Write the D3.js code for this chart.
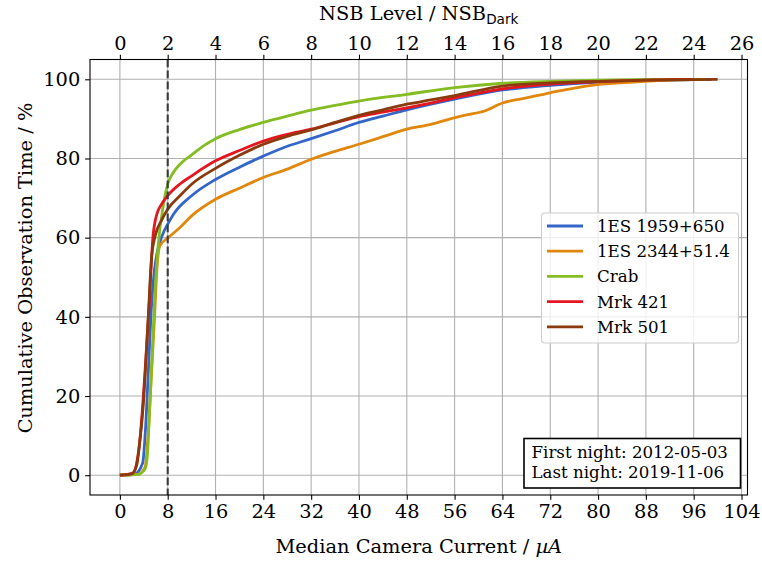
<!DOCTYPE html>
<html>
<head>
<meta charset="utf-8">
<script src="https://cdn.jsdelivr.net/npm/d3@7"></script>
<style>
  html, body { margin: 0; padding: 0; background: #fff; }
  svg text { font-family: "DejaVu Serif", serif; fill: #000; }
</style>
</head>
<body>
<svg id="chart" width="762" height="561"></svg>
<script>
// Cumulative distributions of median camera current per source: [current (µA), cumulative time (%)]
const names = ["1ES 1959+650", "1ES 2344+51.4", "Crab", "Mrk 421", "Mrk 501"];
const colors = ["#3465c8", "#e0870c", "#84bc22", "#e41620", "#8a3a0c"];

const es1959 = [[0,0],[2.5,0.3],[3.8,3],[4.3,12],[4.75,26],[5.3,43],[5.8,52],[6.2,56],[7.2,61],[8,63.4],[9,66],[12,70.6],[16,74.7],[20,77.8],[24,80.6],[28,83.1],[32,85],[36,87],[40,89.1],[44,90.7],[48,92.3],[56,95],[64,97.3],[72,98.5],[80,99.3],[88,99.7],[96,99.95],[99,100]];
const es2344 = [[0,0],[3,0.2],[4.2,2],[4.8,12],[5.3,26],[5.8,40],[6.15,51],[6.7,58],[8.1,60],[10,62.5],[12,65.5],[16,69.7],[20,72.5],[24,75.2],[28,77.3],[32,79.8],[36,81.8],[40,83.6],[44,85.5],[48,87.4],[52,88.6],[55,89.9],[58,91],[61,92],[64,94],[68,95.3],[72,96.6],[78,98.3],[86,99.3],[92,99.8],[98,100]];
const crab = [[0,0],[3,0.2],[4.2,1.5],[4.6,5],[5,17.5],[5.5,34],[5.9,47],[6.4,58],[7.25,68],[8,73.5],[9,76.6],[10,78.5],[11,79.8],[12,80.9],[14,83.2],[16,85],[20,87.3],[24,89.1],[28,90.7],[32,92.2],[36,93.4],[40,94.5],[48,96.2],[56,97.9],[64,99],[72,99.5],[80,99.8],[90,100],[98,100]];
const mrk421 = [[0,0],[2.2,0.5],[2.8,3],[3.35,9],[4.2,26],[4.9,43],[5.5,59.6],[6.1,65.5],[7,68.5],[8,70.6],[10,73.5],[12,75.6],[16,79.4],[20,82],[24,84.4],[28,86.1],[32,87.4],[36,89],[40,90.6],[44,91.7],[48,92.8],[52,94],[56,95.3],[64,97.6],[72,98.8],[80,99.4],[88,99.8],[96,100]];
const mrk501 = [[0,0],[2,0.4],[2.8,2.4],[3.3,8],[3.9,17.5],[4.7,38.6],[5.3,55],[5.9,60.4],[7,64.5],[8,67.2],[10,70.5],[12,73.5],[16,77.5],[20,80.8],[24,83.6],[28,85.6],[32,87.2],[36,89.1],[40,90.9],[44,92.3],[48,93.7],[52,94.8],[56,95.9],[64,98.3],[72,99.1],[80,99.5],[88,99.8],[100,100]];
const seriesData = [es1959, es2344, crab, mrk421, mrk501];

const currentTicks = [0, 8, 16, 24, 32, 40, 48, 56, 64, 72, 80, 88, 96, 104];
const nsbTicks = [0, 2, 4, 6, 8, 10, 12, 14, 16, 18, 20, 22, 24, 26];
const percentTicks = [0, 20, 40, 60, 80, 100];
const darkCurrent = 8; // NSB_Dark reference current (µA)
const infoLines = ["First night: 2012-05-03", "Last night: 2019-11-06"];

const svg = d3.select("#chart");
const L = 90, R = 747.5, T = 59.5, B = 495;
const tickFont = 19.4, labelFont = 19.4, smallFont = 16.67;

const x = d3.scaleLinear().domain([-5, 105]).range([L, R]);
const xTop = d3.scaleLinear().domain([-5 / 4, 105 / 4]).range([L, R]);
const y = d3.scaleLinear().domain([-5, 105]).range([B, T]);

// grid
const grid = svg.append("g").attr("stroke", "#b0b0b0").attr("stroke-width", 1.1);
currentTicks.forEach(t => grid.append("line")
  .attr("x1", x(t)).attr("x2", x(t)).attr("y1", T).attr("y2", B));
percentTicks.forEach(t => grid.append("line")
  .attr("x1", L).attr("x2", R).attr("y1", y(t)).attr("y2", y(t)));

// curves
const line = d3.line().x(d => x(d[0])).y(d => y(d[1])).curve(d3.curveMonotoneX);
const plot = svg.append("g");
seriesData.forEach((s, i) => plot.append("path")
  .attr("d", line(s)).attr("fill", "none")
  .attr("stroke", colors[i]).attr("stroke-width", 2.8)
  .attr("stroke-linejoin", "round").attr("stroke-linecap", "butt"));

// NSB_Dark reference line
svg.append("line")
  .attr("x1", x(darkCurrent)).attr("x2", x(darkCurrent))
  .attr("y1", T).attr("y2", B)
  .attr("stroke", "#3a3a3a").attr("stroke-width", 2.1)
  .attr("stroke-dasharray", "7.7,3.3");

// axes
const tickSize = 4.86, pad = 4.86;
const fmtAxis = g => {
  g.select(".domain").remove();
  g.selectAll(".tick line").attr("stroke", "#000").attr("stroke-width", 1.1);
  g.selectAll(".tick text").style("font-size", tickFont + "px")
    .style("font-family", "'DejaVu Serif', serif").attr("fill", "#000");
};
svg.append("g").attr("transform", `translate(0,${B})`)
  .call(d3.axisBottom(x).tickValues(currentTicks).tickSize(tickSize).tickPadding(pad))
  .call(fmtAxis);
svg.append("g").attr("transform", `translate(0,${T})`)
  .call(d3.axisTop(xTop).tickValues(nsbTicks).tickSize(tickSize).tickPadding(pad))
  .call(fmtAxis);
svg.append("g").attr("transform", `translate(${L},0)`)
  .call(d3.axisLeft(y).tickValues(percentTicks).tickSize(tickSize).tickPadding(pad))
  .call(fmtAxis);

// frame
svg.append("rect").attr("x", L).attr("y", T).attr("width", R - L).attr("height", B - T)
  .attr("fill", "none").attr("stroke", "#000").attr("stroke-width", 1.1);

// axis titles
const xl = svg.append("text").attr("x", (L + R) / 2).attr("y", 553)
  .attr("text-anchor", "middle").style("font-size", labelFont + "px");
xl.append("tspan").text("Median Camera Current / ");
xl.append("tspan").attr("font-style", "italic").text("µA");

const tl = svg.append("text").attr("x", (L + R) / 2).attr("y", 20)
  .attr("text-anchor", "middle").style("font-size", labelFont + "px");
tl.append("tspan").text("NSB Level / NSB");
tl.append("tspan").attr("dy", 4).style("font-size", "13.6px")
  .style("font-family", "'DejaVu Sans', sans-serif").text("Dark");

svg.append("text").attr("transform", "translate(32,268) rotate(-90)")
  .attr("text-anchor", "middle").style("font-size", labelFont + "px")
  .text("Cumulative Observation Time / %");

// legend
const lg = svg.append("g");
lg.append("rect").attr("x", 541.5).attr("y", 213).attr("width", 197).attr("height", 130)
  .attr("rx", 3.5).attr("fill", "#fff").attr("fill-opacity", 0.8)
  .attr("stroke", "#cccccc").attr("stroke-width", 1.1);
names.forEach((n, i) => {
  const cy = 226 + i * 25.2;
  lg.append("line").attr("x1", 547).attr("x2", 583).attr("y1", cy).attr("y2", cy)
    .attr("stroke", colors[i]).attr("stroke-width", 2.8);
  lg.append("text").attr("x", 597).attr("y", cy).attr("dy", "0.36em")
    .style("font-size", smallFont + "px").text(n);
});

// observation period box
const ib = svg.append("g");
ib.append("rect").attr("x", 524).attr("y", 438.5).attr("width", 216.5).attr("height", 49.5)
  .attr("fill", "#fff").attr("stroke", "#000").attr("stroke-width", 1.6);
infoLines.forEach((t, i) => ib.append("text").attr("x", 531.5).attr("y", 458 + i * 19.6)
  .style("font-size", smallFont + "px").text(t));
</script>
</body>
</html>
